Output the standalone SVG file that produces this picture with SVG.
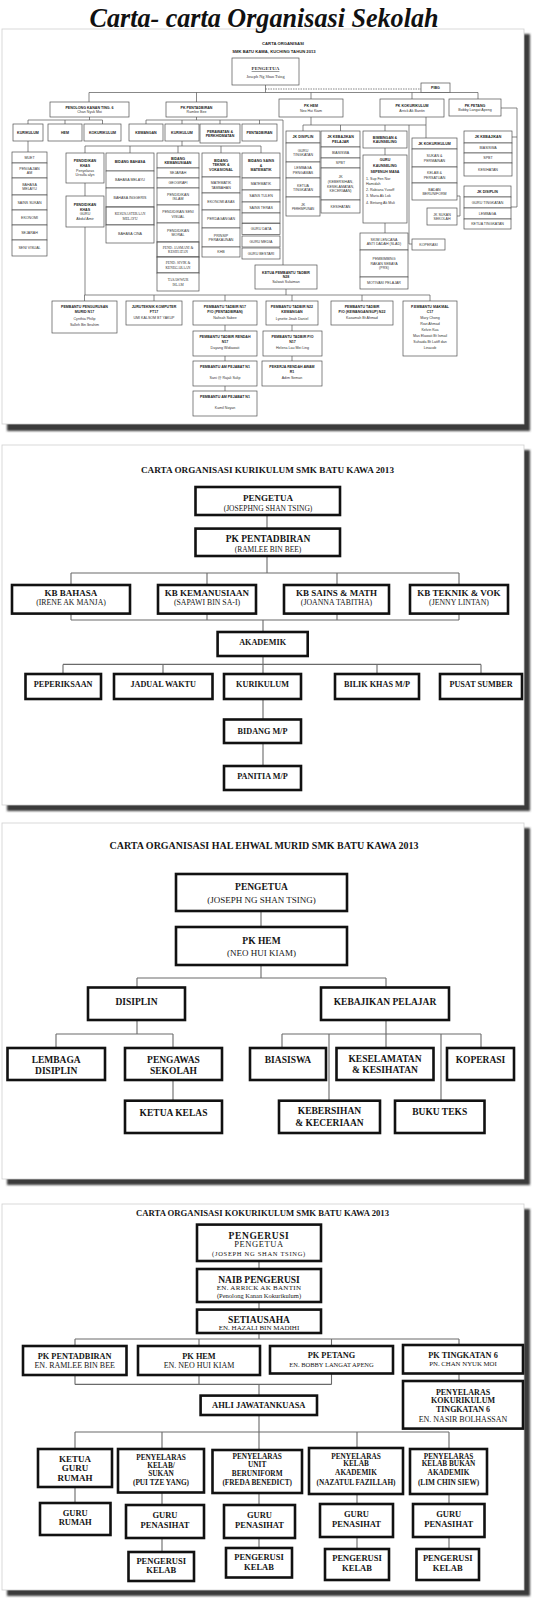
<svg xmlns="http://www.w3.org/2000/svg" width="533" height="1600" viewBox="0 0 533 1600">
<defs>
<filter id="blur" x="-5%" y="-5%" width="110%" height="110%"><feGaussianBlur stdDeviation="1.1"/></filter>
<style>
.sh{fill:#3a3a3a;filter:url(#blur)}
.pn{fill:#fff;stroke:#cfcfcf;stroke-width:0.8}
.n1 rect{fill:#fff;stroke:#505050;stroke-width:0.7}
.n1 text,.t1{font-family:"Liberation Sans",Arial,sans-serif;font-size:3.6px;fill:#333;text-anchor:middle}
.n1 text.h,.t1.h{font-weight:bold;fill:#222}
.n1 text.l{text-anchor:start}
.c1 path{fill:none;stroke:#555;stroke-width:0.7}
.n2 rect{fill:#fff;stroke:#111;stroke-width:2.6}
.n2 text,.ts{font-family:"Liberation Serif","Times New Roman",serif;fill:#151515;text-anchor:middle;font-size:8.2px}
.n2 text.b,.ts.b{font-weight:bold}
.c2 path{fill:none;stroke:#6a6a6a;stroke-width:1.1}
</style>
</defs>
<rect width="533" height="1600" fill="#fff"/>

<!-- panel frames -->
<rect class="sh" x="7" y="34" width="523" height="397"/>
<rect class="pn" x="2" y="29" width="522" height="395"/>
<rect class="sh" x="7" y="450" width="523" height="361"/>
<rect class="pn" x="2" y="445" width="522" height="360"/>
<rect class="sh" x="7" y="828" width="523" height="357"/>
<rect class="pn" x="2" y="823" width="522" height="356"/>
<rect class="sh" x="7" y="1209" width="523" height="387"/>
<rect class="pn" x="2" y="1204" width="522" height="386"/>

<text x="264" y="27" style="font-family:'Liberation Serif',serif;font-style:italic;font-weight:bold;font-size:27px;fill:#111;text-anchor:middle" textLength="349" lengthAdjust="spacingAndGlyphs">Carta- carta Organisasi Sekolah</text>

<!-- ============ PANEL 1 ============ -->
<text class="t1 h" x="283" y="45" style="font-size:4.2px">CARTA ORGANISASI</text>
<text class="t1 h" x="274" y="53" style="font-size:4.2px">SMK BATU KAWA, KUCHING TAHUN 2013</text>

<g id="p1-connectors" class="c1">
<path d="M265.5 85V92.5M89 92.5H478M89 92.5V102M196.5 92.5V102M311 92.5V99M412 92.5V99M478 92.5V99"/>
<path d="M265.5 89H421" style="stroke-dasharray:1.5 1"/>
<path d="M89.5 117V120M28 120H102.5M28 120V124M65 120V124M102.5 120V124M28 141V152"/>
<path d="M196.5 117V120M146 120H283M146 120V124M182 120V124M220 120V124M259.5 120V124M283 120V265"/>
<path d="M182 141V146M85 146H261M85 146V153M130 146V153M178 146V153M221 146V153M261 146V153M85 183V196M85 227V295"/>
<path d="M311 117V125M303 125H426M303 125V131M340.5 125V131M385 125V131M426 117V138M409 125V244H412"/>
<path d="M385 148V155M385 223V233M457 196H460V216H457"/>
<path d="M501 108H517V207H511M517 137H512"/>
<path d="M286 289V295M84.5 295H430M84.5 295V301M154 295V301M225 295V301M292 295V301M362 295V301M430 295V301"/>
<path d="M225 325V331M225 356V361M225 386V391M292 325V331M292 356V361"/>
</g>

<g id="p1-pengetua" class="n1"><rect x="232" y="58" width="67" height="27"/>
<text x="265.5" y="70" style="font-family:'Liberation Serif',serif;font-size:5px;font-weight:bold;text-decoration:underline">PENGETUA</text>
<text x="265.5" y="77.5" style="font-family:'Liberation Serif',serif;font-size:4.3px">Joseph Ng Shan Tsing</text></g>
<g id="p1-pibg" class="n1"><rect x="421" y="83" width="29" height="9.5"/><text class="h" x="435.5" y="89">PIBG</text></g>

<g id="p1-penolong" class="n1"><rect x="50" y="102" width="79" height="15"/><text class="h" x="89.5" y="108.5">PENOLONG KANAN TING. 6</text><text x="89.5" y="113.1">Chan Nyuk Moi</text></g>
<g id="p1-pkpentadbiran" class="n1"><rect x="166" y="102" width="61" height="15"/><text class="h" x="196.5" y="108.5">PK PENTADBIRAN</text><text x="196.5" y="113.1">Ramlee Bee</text></g>
<g id="p1-pkhem" class="n1"><rect x="279" y="99" width="64" height="18"/><text class="h" x="311" y="107">PK HEM</text><text x="311" y="111.6">Neo Hui Kiam</text></g>
<g id="p1-pkkoko" class="n1"><rect x="380" y="99" width="64" height="18"/><text class="h" x="412" y="107">PK KOKURIKULUM</text><text x="412" y="111.6">Arrick Ak Bantin</text></g>
<g id="p1-pkpetang" class="n1"><rect x="449" y="99" width="52" height="17"/><text class="h" x="475" y="106.5">PK PETANG</text><text x="475" y="111.1">Bobby Langat Apeng</text></g>

<g id="p1-kurikulum-a" class="n1"><rect x="13" y="124" width="30" height="17"/><text class="h" x="28" y="133.8">KURIKULUM</text></g>
<g id="p1-hem-a" class="n1"><rect x="48" y="124" width="34" height="17"/><text class="h" x="65" y="133.8">HEM</text></g>
<g id="p1-koko-a" class="n1"><rect x="84" y="124" width="37" height="17"/><text class="h" x="102.5" y="133.8">KOKURIKULUM</text></g>
<g id="p1-kewangan" class="n1"><rect x="129" y="124" width="34" height="17"/><text class="h" x="146" y="133.8">KEWANGAN</text></g>
<g id="p1-kurikulum-b" class="n1"><rect x="165" y="124" width="34" height="17"/><text class="h" x="182" y="133.8">KURIKULUM</text></g>
<g id="p1-perawatan" class="n1"><rect x="200" y="124" width="40" height="19"/><text class="h" x="220" y="132.5">PERAWATAN &amp;</text><text class="h" x="220" y="137.1">PERKHIDMATAN</text></g>
<g id="p1-pentadbiran" class="n1"><rect x="242" y="124" width="35" height="17"/><text class="h" x="259.5" y="133.8">PENTADBIRAN</text></g>

<g id="p1-stack-ting6" class="n1">
<rect x="12" y="152" width="35" height="11"/><text x="29.5" y="158.8">MUET</text>
<rect x="12" y="163" width="35" height="15"/><text x="29.5" y="169.5">PENGAJIAN</text><text x="29.5" y="174.1">AM</text>
<rect x="12" y="178" width="35" height="17"/><text x="29.5" y="185.5">BAHASA</text><text x="29.5" y="190.1">MELAYU</text>
<rect x="12" y="195" width="35" height="15"/><text x="29.5" y="203.8">SAINS SUKAN</text>
<rect x="12" y="210" width="35" height="15"/><text x="29.5" y="218.8">EKONOMI</text>
<rect x="12" y="225" width="35" height="15"/><text x="29.5" y="233.8">SEJARAH</text>
<rect x="12" y="240" width="35" height="16"/><text x="29.5" y="249.3">SENI VISUAL</text>
</g>

<g id="p1-pkhas1" class="n1"><rect x="66" y="153" width="38" height="30"/><text class="h" x="85" y="162.4">PENDIDIKAN</text><text class="h" x="85" y="167">KHAS</text><text x="85" y="171.6">Penyelaras</text><text x="85" y="176.2">Ursulla alyn</text></g>
<g id="p1-pkhas2" class="n1"><rect x="66" y="196" width="38" height="31"/><text class="h" x="85" y="205.9">PENDIDIKAN</text><text class="h" x="85" y="210.5">KHAS</text><text x="85" y="215.1">GURU</text><text x="85" y="219.7">Abdul Amir</text></g>

<g id="p1-bidang-bahasa" class="n1">
<rect x="106" y="153" width="48" height="18"/><text class="h" x="130" y="163.3">BIDANG BAHASA</text>
<rect x="106" y="171" width="48" height="17"/><text x="130" y="180.8">BAHASA MELAYU</text>
<rect x="106" y="188" width="48" height="19"/><text x="130" y="198.8">BAHASA INGGERIS</text>
<rect x="106" y="207" width="48" height="18" style="stroke-width:1"/><text x="130" y="215" style="font-family:'Liberation Serif',serif">KESUSASTERAAN</text><text x="130" y="219.6" style="font-family:'Liberation Serif',serif">MELAYU</text>
<rect x="106" y="225" width="48" height="18"/><text x="130" y="235.3">BAHASA CINA</text>
</g>

<g id="p1-bidang-kemanusiaan" class="n1">
<rect x="157" y="153" width="42" height="15"/><text class="h" x="178" y="159.5">BIDANG</text><text class="h" x="178" y="164.1">KEMANUSIAAN</text>
<rect x="157" y="168" width="42" height="10"/><text x="178" y="174.3">SEJARAH</text>
<rect x="157" y="178" width="42" height="10"/><text x="178" y="184.3">GEOGRAFI</text>
<rect x="157" y="188" width="42" height="17"/><text x="178" y="195.5">PENDIDIKAN</text><text x="178" y="200.1">ISLAM</text>
<rect x="157" y="205" width="42" height="18"/><text x="178" y="213">PENDIDIKAN SENI</text><text x="178" y="217.6">VISUAL</text>
<rect x="157" y="223" width="42" height="19"/><text x="178" y="231.5">PENDIDIKAN</text><text x="178" y="236.1">MORAL</text>
<rect x="157" y="242" width="42" height="15" style="stroke-width:1"/><text x="178" y="248.5" style="font-family:'Liberation Serif',serif">PEND. JASMANI &amp;</text><text x="178" y="253.1" style="font-family:'Liberation Serif',serif">KESIHATAN</text>
<rect x="157" y="257" width="42" height="16" style="stroke-width:1"/><text x="178" y="264" style="font-family:'Liberation Serif',serif">PEND. SIVIK &amp;</text><text x="178" y="268.6" style="font-family:'Liberation Serif',serif">KENEGARAAN</text>
<rect x="157" y="273" width="42" height="18"/><text x="178" y="281" style="font-family:'Liberation Serif',serif">TASAWWUR</text><text x="178" y="285.6" style="font-family:'Liberation Serif',serif">ISLAM</text>
</g>

<g id="p1-bidang-teknik" class="n1">
<rect x="202" y="153" width="38" height="24"/><text class="h" x="221" y="161.7">BIDANG</text><text class="h" x="221" y="166.3">TEKNIK &amp;</text><text class="h" x="221" y="170.9">VOKASIONAL</text>
<rect x="202" y="177" width="38" height="16"/><text x="221" y="184">MATEMATIK</text><text x="221" y="188.6">TAMBAHAN</text>
<rect x="202" y="193" width="38" height="17"/><text x="221" y="202.8">EKONOMI ASAS</text>
<rect x="202" y="210" width="38" height="18"/><text x="221" y="220.3">PERDAGANGAN</text>
<rect x="202" y="228" width="38" height="19"/><text x="221" y="236.5">PRINSIP</text><text x="221" y="241.1">PERAKAUNAN</text>
<rect x="202" y="247" width="38" height="10"/><text x="221" y="253.3">KHB</text>
</g>

<g id="p1-bidang-sains" class="n1">
<rect x="242" y="153" width="38" height="25"/><text class="h" x="261" y="162.2">BIDANG SAINS</text><text class="h" x="261" y="166.8">&amp;</text><text class="h" x="261" y="171.4">MATEMATIK</text>
<rect x="242" y="178" width="38" height="12"/><text x="261" y="185.3">MATEMATIK</text>
<rect x="242" y="190" width="38" height="12"/><text x="261" y="197.3">SAINS TULEN</text>
<rect x="242" y="202" width="38" height="11"/><text x="261" y="208.8">SAINS TERAS</text>
<rect x="242" y="213" width="38" height="10"/>
<rect x="242" y="223.5" width="38" height="11"/><text x="261" y="230.3">GURU DATA</text>
<rect x="242" y="236" width="38" height="11"/><text x="261" y="242.8">GURU MEDIA</text>
<rect x="242" y="248" width="38" height="11"/><text x="261" y="254.8">GURU BESTARI</text>
</g>

<g id="p1-jk-disiplin" class="n1">
<rect x="286" y="131" width="34" height="12"/><text class="h" x="303" y="138.3">JK DISIPLIN</text>
<rect x="286" y="143" width="34" height="19"/><text x="303" y="151.5">GURU</text><text x="303" y="156.1">TINGKATAN</text>
<rect x="286" y="162" width="34" height="16"/><text x="303" y="169">LEMBAGA</text><text x="303" y="173.6">PENGAWAS</text>
<rect x="286" y="178" width="34" height="19"/><text x="303" y="186.5">KETUA</text><text x="303" y="191.1">TINGKATAN</text>
<rect x="286" y="197" width="34" height="19"/><text x="303" y="205.5">JK</text><text x="303" y="210.1" style="font-size:3px">PERHIMPUNAN</text>
</g>

<g id="p1-jk-kebajikan" class="n1">
<rect x="321" y="131" width="39" height="16"/><text class="h" x="340.5" y="138">JK KEBAJIKAN</text><text class="h" x="340.5" y="142.6">PELAJAR</text>
<rect x="321" y="147" width="39" height="11"/><text x="340.5" y="153.8">BIASISWA</text>
<rect x="321" y="158" width="39" height="10"/><text x="340.5" y="164.3">SPBT</text>
<rect x="321" y="168" width="39" height="32"/><text x="340.5" y="178.4">JK</text><text x="340.5" y="183">(KEBERSIHAN,</text><text x="340.5" y="187.6">KESELAMATAN,</text><text x="340.5" y="192.2">KECERIAAN)</text>
<rect x="321" y="200" width="39" height="13"/><text x="340.5" y="207.8">KESIHATAN</text>
</g>

<g id="p1-bimbingan" class="n1"><rect x="363" y="131" width="44" height="17"/><text class="h" x="385" y="138.5">BIMBINGAN &amp;</text><text class="h" x="385" y="143.1">KAUNSELING</text></g>
<g id="p1-guru-kaunseling" class="n1"><rect x="363" y="155" width="44" height="68"/>
<text class="h" x="385" y="161">GURU</text><text class="h" x="385" y="166.7">KAUNSELING</text><text class="h" x="385" y="172.5">SEPENUH MASA</text>
<text class="l" x="366" y="179.5">1. Sup Fen Nor</text><text class="l" x="366" y="185">Hamidah</text><text class="l" x="366" y="191">2. Rabiana Yusoff</text><text class="l" x="366" y="197">3. Maria Ak Lok</text><text class="l" x="366" y="203.5">4. Bintang Ak Muli</text></g>
<g id="p1-skim" class="n1">
<rect x="360" y="233" width="48" height="17"/><text x="384" y="240.5">SKIM LENCANA</text><text x="384" y="245.1">ANTI DADAH (SLAD)</text>
<rect x="360" y="250" width="48" height="27"/><text x="384" y="260.2">PEMBIMBING</text><text x="384" y="264.8">RAKAN SEBAYA</text><text x="384" y="269.4">(PRS)</text>
<rect x="360" y="277" width="48" height="12"/><text x="384" y="284.3">MOTIVASI PELAJAR</text>
</g>

<g id="p1-jk-koko" class="n1">
<rect x="412" y="138" width="45" height="11"/><text class="h" x="434.5" y="144.8">JK KOKURIKULUM</text>
<rect x="412" y="149" width="45" height="18"/><text x="434.5" y="157">SUKAN &amp;</text><text x="434.5" y="161.6">PERMAINAN</text>
<rect x="412" y="167" width="45" height="16"/><text x="434.5" y="174">KELAB &amp;</text><text x="434.5" y="178.6">PERSATUAN</text>
<rect x="412" y="183" width="45" height="17"/><text x="434.5" y="190.5">BADAN</text><text x="434.5" y="195.1">BERUNIFORM</text>
</g>
<g id="p1-jk-sukan" class="n1"><rect x="427" y="208" width="30" height="17"/><text x="442" y="215.5">JK SUKAN</text><text x="442" y="220.1">SEKOLAH</text></g>
<g id="p1-koperasi" class="n1"><rect x="412" y="239" width="33" height="11"/><text x="428.5" y="245.8">KOPERASI</text></g>

<g id="p1-jk-kebajikan-petang" class="n1">
<rect x="464" y="131" width="48" height="12"/><text class="h" x="488" y="138.3">JK KEBAJIKAN</text>
<rect x="464" y="143" width="48" height="10"/><text x="488" y="149.3">BIASISWA</text>
<rect x="464" y="153" width="48" height="10"/><text x="488" y="159.3">SPBT</text>
<rect x="464" y="163" width="48" height="13"/><text x="488" y="170.8">KESIHATAN</text>
</g>
<g id="p1-jk-disiplin-petang" class="n1">
<rect x="464" y="186" width="47" height="11"/><text class="h" x="487.5" y="192.8">JK DISIPLIN</text>
<rect x="464" y="197" width="47" height="11"/><text x="487.5" y="203.8">GURU TINGKATAN</text>
<rect x="464" y="208" width="47" height="11"/><text x="487.5" y="214.8">LEMBAGA</text>
<rect x="464" y="219" width="47" height="10"/><text x="487.5" y="225.3">KETUA TINGKATAN</text>
</g>

<g id="p1-ketua-pt" class="n1"><rect x="255" y="265" width="62" height="24"/><text class="h" x="286" y="273.7">KETUA PEMBANTU TADBIR</text><text class="h" x="286" y="278.3">N28</text><text x="286" y="282.9">Salwati Sulaiman</text></g>

<g id="p1-ppm" class="n1"><rect x="52" y="301" width="65" height="32"/><text class="h" x="84.5" y="308">PEMBANTU PENGURUSAN</text><text class="h" x="84.5" y="313">MURID N17</text><text x="84.5" y="319.5">Cynthia Philip</text><text x="84.5" y="325.5">Salleh Bin Ibrahim</text></g>
<g id="p1-juruteknik" class="n1"><rect x="126" y="301" width="56" height="24"/><text class="h" x="154" y="308">JURUTEKNIK KOMPUTER</text><text class="h" x="154" y="313">FT17</text><text x="154" y="319">UMI KALSOM BT YAKUP</text></g>
<g id="p1-pt-n17" class="n1"><rect x="193" y="301" width="64" height="24"/><text class="h" x="225" y="308">PEMBANTU TADBIR N17</text><text class="h" x="225" y="313">P/O (PENTADBIRAN)</text><text x="225" y="319">Nafisah Sabee</text></g>
<g id="p1-pt-n22" class="n1"><rect x="266" y="301" width="52" height="24"/><text class="h" x="292" y="308">PEMBANTU TADBIR N22</text><text class="h" x="292" y="313">KEWANGAN</text><text x="292" y="319.5">Lynette Jinah Daniel</text></g>
<g id="p1-pt-sup" class="n1"><rect x="331" y="301" width="62" height="24"/><text class="h" x="362" y="308">PEMBANTU TADBIR</text><text class="h" x="362" y="313">P/O (KEWANGAN/SUP) N22</text><text x="362" y="318.5">Kasamah Bt Ahmad</text></g>
<g id="p1-makmal" class="n1"><rect x="403" y="301" width="54" height="55"/><text class="h" x="430" y="308">P.EMBANTU MAKMAL</text><text class="h" x="430" y="313">C17</text><text x="430" y="319">Mary Chong</text><text x="430" y="325">Rozi Ahmad</text><text x="430" y="331">Kelvin Kua</text><text x="430" y="337">Mas Elawati Bt Ismail</text><text x="430" y="343">Suhaida Bt Latiff dan</text><text x="430" y="349">Linacob</text></g>
<g id="p1-ptr" class="n1"><rect x="193" y="331" width="64" height="25"/><text class="h" x="225" y="338">PEMBANTU TADBIR RENDAH</text><text class="h" x="225" y="343">N17</text><text x="225" y="349">Dayang Widiawati</text></g>
<g id="p1-pap1" class="n1"><rect x="193" y="361" width="64" height="25"/><text class="h" x="225" y="368">PEMBANTU AM PEJABAT N1</text><text x="225" y="379">Sani @ Rajali Sulip</text></g>
<g id="p1-pap2" class="n1"><rect x="193" y="391" width="64" height="25"/><text class="h" x="225" y="398">PEMBANTU AM PEJABAT N1</text><text x="225" y="409">Kamil Noyan</text></g>
<g id="p1-pt-po" class="n1"><rect x="263" y="331" width="59" height="25"/><text class="h" x="292.5" y="338">PEMBANTU TADBIR P/O</text><text class="h" x="292.5" y="343">N17</text><text x="292.5" y="349">Helena Lau Mei Ling</text></g>
<g id="p1-pra" class="n1"><rect x="262" y="361" width="60" height="25"/><text class="h" x="292" y="368">PEKERJA RENDAH AWAM</text><text class="h" x="292" y="373">R1</text><text x="292" y="379">Adim Seman</text></g>

<!-- ============ PANEL 2 ============ -->
<text class="ts b" x="267.5" y="473" style="font-size:9px" textLength="253" lengthAdjust="spacingAndGlyphs">CARTA ORGANISASI KURIKULUM SMK BATU KAWA 2013</text>
<g id="p2-connectors" class="c2">
<path d="M267 515V528.6M267 556V573M71 573H459M71 573V585M207 573V585M337 573V585M459 573V585"/>
<path d="M71 613.6V620M207 613.6V620M337 613.6V620M459 613.6V620M71 620H459M263 620V632"/>
<path d="M263 656V664.4M63 664.4H481M63 664.4V674M163 664.4V674M263 664.4V674M377 664.4V674M481 664.4V674"/>
<path d="M263 699V719.5M263 743V766"/>
</g>
<g id="p2-pengetua" class="n2"><rect x="195.5" y="487" width="144.5" height="28"/><text class="b" x="268" y="500.5" style="font-size:9px">PENGETUA</text><text x="268" y="510.5" style="font-size:7.5px">(JOSEPHNG SHAN TSING)</text></g>
<g id="p2-pkpentadbiran" class="n2"><rect x="195.5" y="528.6" width="144.5" height="27.4"/><text class="b" x="268" y="541.5" style="font-size:9.5px">PK PENTADBIRAN</text><text x="268" y="551.5" style="font-size:7.5px">(RAMLEE BIN BEE)</text></g>
<g id="p2-kb-bahasa" class="n2"><rect x="12" y="585" width="118" height="28.6"/><text class="b" x="71" y="595.5" style="font-size:9px">KB BAHASA</text><text x="71" y="604.5" style="font-size:7.8px">(IRENE AK MANJA)</text></g>
<g id="p2-kb-kemanusiaan" class="n2"><rect x="158" y="585" width="98" height="28.6"/><text class="b" x="207" y="595.5" style="font-size:9px">KB KEMANUSIAAN</text><text x="207" y="604.5" style="font-size:7.8px">(SAPAWI BIN SA-I)</text></g>
<g id="p2-kb-sains" class="n2"><rect x="284" y="585" width="105" height="28.6"/><text class="b" x="336.5" y="595.5" style="font-size:9px">KB SAINS &amp; MATH</text><text x="336.5" y="604.5" style="font-size:7.8px">(JOANNA TABITHA)</text></g>
<g id="p2-kb-teknik" class="n2"><rect x="410" y="585" width="98" height="28.6"/><text class="b" x="459" y="595.5" style="font-size:9px">KB TEKNIK &amp; VOK</text><text x="459" y="604.5" style="font-size:7.8px">(JENNY LINTAN)</text></g>
<g id="p2-akademik" class="n2"><rect x="217.6" y="632" width="90.1" height="24"/><text class="b" x="262.6" y="645">AKADEMIK</text></g>
<g id="p2-peperiksaan" class="n2"><rect x="25.5" y="674" width="75.5" height="25"/><text class="b" x="63.2" y="687">PEPERIKSAAN</text></g>
<g id="p2-jadual" class="n2"><rect x="114" y="674" width="98.5" height="25"/><text class="b" x="163.2" y="687">JADUAL WAKTU</text></g>
<g id="p2-kurikulum" class="n2"><rect x="224" y="674" width="77" height="25"/><text class="b" x="262.5" y="687">KURIKULUM</text></g>
<g id="p2-bilik" class="n2"><rect x="335" y="674" width="84" height="25"/><text class="b" x="377" y="687">BILIK KHAS M/P</text></g>
<g id="p2-pusat" class="n2"><rect x="440" y="674" width="82" height="25"/><text class="b" x="481" y="687">PUSAT SUMBER</text></g>
<g id="p2-bidang" class="n2"><rect x="224" y="719.5" width="77" height="23.5"/><text class="b" x="262.5" y="733.5">BIDANG M/P</text></g>
<g id="p2-panitia" class="n2"><rect x="224" y="766" width="77" height="24"/><text class="b" x="262.5" y="778.5">PANITIA M/P</text></g>

<!-- ============ PANEL 3 ============ -->
<text class="ts b" x="264" y="849" style="font-size:9.5px" textLength="309" lengthAdjust="spacingAndGlyphs">CARTA ORGANISASI HAL EHWAL MURID SMK BATU KAWA 2013</text>
<g id="p3-connectors" class="c2">
<path d="M261 911V927M261 965V978M137 978H386M137 978V987.5M386 978V987.5"/>
<path d="M137 1020V1034M56 1034H173M56 1034V1048M173 1034V1048M173 1080V1100.7"/>
<path d="M386 1020V1034M282 1034H481M282 1034V1048M329 1034V1100.7M386 1034V1048M441 1034V1100.7M481 1034V1048"/>
</g>
<g id="p3-pengetua" class="n2"><rect x="176" y="874" width="171" height="37"/><text class="b" x="261.5" y="889.5" style="font-size:9.5px">PENGETUA</text><text x="261.5" y="902.5" style="font-size:9px">(JOSEPH NG SHAN TSING)</text></g>
<g id="p3-pkhem" class="n2"><rect x="176" y="927" width="171" height="38"/><text class="b" x="261.5" y="944" style="font-size:9.5px">PK HEM</text><text x="261.5" y="956" style="font-size:9px">(NEO HUI KIAM)</text></g>
<g id="p3-disiplin" class="n2"><rect x="88" y="987.5" width="97" height="32.5"/><text class="b" x="136.5" y="1004.5" style="font-size:9.5px">DISIPLIN</text></g>
<g id="p3-kebajikan" class="n2"><rect x="321" y="987.5" width="128" height="32.5"/><text class="b" x="385" y="1004.5" style="font-size:9.5px">KEBAJIKAN PELAJAR</text></g>
<g id="p3-lembaga" class="n2"><rect x="7.5" y="1048" width="97.5" height="32"/><text class="b" x="56.2" y="1063" style="font-size:9.5px">LEMBAGA</text><text class="b" x="56.2" y="1074" style="font-size:9.5px">DISIPLIN</text></g>
<g id="p3-pengawas" class="n2"><rect x="125" y="1048" width="97" height="32"/><text class="b" x="173.5" y="1063" style="font-size:9.5px">PENGAWAS</text><text class="b" x="173.5" y="1074" style="font-size:9.5px">SEKOLAH</text></g>
<g id="p3-ketua-kelas" class="n2"><rect x="125" y="1100.7" width="97" height="32.3"/><text class="b" x="173.5" y="1116" style="font-size:9.5px">KETUA KELAS</text></g>
<g id="p3-biasiswa" class="n2"><rect x="250" y="1048" width="76" height="32"/><text class="b" x="288" y="1063" style="font-size:9.5px">BIASISWA</text></g>
<g id="p3-keselamatan" class="n2"><rect x="336.5" y="1048" width="97" height="32"/><text class="b" x="385" y="1061.5" style="font-size:9.5px">KESELAMATAN</text><text class="b" x="385" y="1072.5" style="font-size:9.5px">&amp; KESIHATAN</text></g>
<g id="p3-koperasi" class="n2"><rect x="447" y="1048" width="67" height="32"/><text class="b" x="480.5" y="1063" style="font-size:9.5px">KOPERASI</text></g>
<g id="p3-kebersihan" class="n2"><rect x="279" y="1100.7" width="101" height="32.3"/><text class="b" x="329.5" y="1114" style="font-size:9.5px">KEBERSIHAN</text><text class="b" x="329.5" y="1125.5" style="font-size:9.5px">&amp; KECERIAAN</text></g>
<g id="p3-buku" class="n2"><rect x="395" y="1100.7" width="89.5" height="32.3"/><text class="b" x="439.7" y="1115" style="font-size:9.5px">BUKU TEKS</text></g>

<!-- ============ PANEL 4 ============ -->
<text class="ts b" x="262.5" y="1215.5" style="font-size:9px" textLength="253" lengthAdjust="spacingAndGlyphs">CARTA ORGANISASI KOKURIKULUM SMK BATU KAWA 2013</text>
<g id="p4-connectors" class="c2">
<path d="M259 1261V1269M259 1302V1309.6M259 1333V1339M75 1339H459M75 1339V1346M199 1339V1346M331.5 1339V1346M459 1339V1345M459 1373.5V1381"/>
<path d="M75 1375V1384.4M199 1375V1384.4M331.5 1373.5V1384.4M75 1384.4H331.5M259 1384.4V1395.6"/>
<path d="M259 1415V1432M75 1432H449M75 1432V1449M162 1432V1449M259 1432V1450M357 1432V1448M449 1432V1449"/>
<path d="M75 1487V1503M162 1492.5V1505M162 1538V1552M259 1493V1505M259 1538V1548M357 1494V1504M357 1537V1549M449 1494V1504M449 1537V1549"/>
</g>
<g id="p4-pengerusi" class="n2"><rect x="197" y="1224.6" width="124" height="36.4"/><text class="b" x="259" y="1238.5" style="font-size:9.5px;letter-spacing:0.6px">PENGERUSI</text><text x="259" y="1247" style="font-size:8.5px;letter-spacing:0.6px">PENGETUA</text><text x="259" y="1255.5" style="font-size:6.5px;letter-spacing:0.7px">(JOSEPH NG SHAN TSING)</text></g>
<g id="p4-naib" class="n2"><rect x="197" y="1269" width="124" height="33"/><text class="b" x="259" y="1282.5" style="font-size:9.5px">NAIB PENGERUSI</text><text x="259" y="1290" style="font-size:7px;letter-spacing:0.3px">EN. ARRICK AK BANTIN</text><text x="259" y="1297.5" style="font-size:6.5px">(Penolong Kanan Kokurikulum)</text></g>
<g id="p4-setiausaha" class="n2"><rect x="197" y="1309.6" width="124" height="23.4"/><text class="b" x="259" y="1322.5" style="font-size:9.5px">SETIAUSAHA</text><text x="259" y="1330.3" style="font-size:7px">EN. HAZALI BIN MADIHI</text></g>
<g id="p4-pkpentadbiran" class="n2"><rect x="23" y="1346" width="103.5" height="29"/><text class="b" x="74.7" y="1358.5" style="font-size:8.3px">PK PENTADBIRAN</text><text x="74.7" y="1368" style="font-size:8px">EN. RAMLEE BIN BEE</text></g>
<g id="p4-pkhem" class="n2"><rect x="138" y="1346" width="122" height="29"/><text class="b" x="199" y="1358.5" style="font-size:8.3px">PK HEM</text><text x="199" y="1368" style="font-size:8px">EN. NEO HUI KIAM</text></g>
<g id="p4-pkpetang" class="n2"><rect x="270" y="1346" width="123" height="27.5"/><text class="b" x="331.5" y="1358" style="font-size:8.3px">PK PETANG</text><text x="331.5" y="1366.5" style="font-size:6.5px">EN. BOBBY LANGAT APENG</text></g>
<g id="p4-pkting6" class="n2"><rect x="403" y="1345" width="120" height="28.5"/><text class="b" x="463" y="1357.5" style="font-size:8.3px">PK TINGKATAN 6</text><text x="463" y="1366" style="font-size:6.8px">PN. CHAN NYUK MOI</text></g>
<g id="p4-penyelaras-t6" class="n2"><rect x="403" y="1381" width="120" height="47.6"/><text class="b" x="463" y="1394.5" style="font-size:8px">PENYELARAS</text><text class="b" x="463" y="1402.8" style="font-size:8px">KOKURIKULUM</text><text class="b" x="463" y="1411.8" style="font-size:8px">TINGKATAN 6</text><text x="463" y="1421.8" style="font-size:8px">EN. NASIR BOLHASSAN</text></g>
<g id="p4-ahli" class="n2"><rect x="200.6" y="1395.6" width="116.4" height="19.4"/><text class="b" x="258.8" y="1408.3" style="font-size:8.5px">AHLI JAWATANKUASA</text></g>
<g id="p4-ketua-guru-rumah" class="n2"><rect x="38" y="1449" width="74" height="38"/><text class="b" x="75" y="1462" style="font-size:9px">KETUA</text><text class="b" x="75" y="1471" style="font-size:9px">GURU</text><text class="b" x="75" y="1481" style="font-size:9px">RUMAH</text></g>
<g id="p4-kelab-sukan" class="n2"><rect x="118" y="1449" width="86" height="43.5"/><text class="b" x="161" y="1460" style="font-size:7.3px">PENYELARAS</text><text class="b" x="161" y="1467.7" style="font-size:7.3px">KELAB/</text><text class="b" x="161" y="1475.5" style="font-size:7.3px">SUKAN</text><text class="b" x="161" y="1484.7" style="font-size:7.3px">(PUI TZE YANG)</text></g>
<g id="p4-unit" class="n2"><rect x="212.5" y="1450" width="89.5" height="43"/><text class="b" x="257.2" y="1459" style="font-size:7.3px">PENYELARAS</text><text class="b" x="257.2" y="1467" style="font-size:7.3px">UNIT</text><text class="b" x="257.2" y="1475.5" style="font-size:7.3px">BERUNIFORM</text><text class="b" x="257.2" y="1485" style="font-size:7.3px">(FREDA BENEDICT)</text></g>
<g id="p4-akademik" class="n2"><rect x="309" y="1448" width="94" height="46"/><text class="b" x="356" y="1458.5" style="font-size:7.3px">PENYELARAS</text><text class="b" x="356" y="1466" style="font-size:7.3px">KELAB</text><text class="b" x="356" y="1474.5" style="font-size:7.3px">AKADEMIK</text><text class="b" x="356" y="1484.7" style="font-size:7.3px">(NAZATUL FAZILLAH)</text></g>
<g id="p4-bukan-akademik" class="n2"><rect x="410" y="1449" width="77" height="45"/><text class="b" x="448.5" y="1458.5" style="font-size:7.3px">PENYELARAS</text><text class="b" x="448.5" y="1466" style="font-size:7.3px">KELAB BUKAN</text><text class="b" x="448.5" y="1474.5" style="font-size:7.3px">AKADEMIK</text><text class="b" x="448.5" y="1484.7" style="font-size:7.3px">(LIM CHIN SIEW)</text></g>
<g id="p4-guru-rumah" class="n2"><rect x="40" y="1503" width="70.5" height="32"/><text class="b" x="75.2" y="1515.5" style="font-size:8.5px">GURU</text><text class="b" x="75.2" y="1525" style="font-size:8.5px">RUMAH</text></g>
<g id="p4-gp1" class="n2"><rect x="126" y="1505" width="78" height="33"/><text class="b" x="165" y="1517.5" style="font-size:8.5px">GURU</text><text class="b" x="165" y="1527.5" style="font-size:8.5px">PENASIHAT</text></g>
<g id="p4-gp2" class="n2"><rect x="224" y="1505" width="71" height="33"/><text class="b" x="259.5" y="1517.5" style="font-size:8.5px">GURU</text><text class="b" x="259.5" y="1527.5" style="font-size:8.5px">PENASIHAT</text></g>
<g id="p4-gp3" class="n2"><rect x="320" y="1504" width="73" height="33"/><text class="b" x="356.5" y="1516.5" style="font-size:8.5px">GURU</text><text class="b" x="356.5" y="1526.5" style="font-size:8.5px">PENASIHAT</text></g>
<g id="p4-gp4" class="n2"><rect x="413" y="1504" width="71.5" height="33"/><text class="b" x="448.7" y="1516.5" style="font-size:8.5px">GURU</text><text class="b" x="448.7" y="1526.5" style="font-size:8.5px">PENASIHAT</text></g>
<g id="p4-pk1" class="n2"><rect x="128.5" y="1552" width="65.5" height="29"/><text class="b" x="161.2" y="1563.5" style="font-size:8.5px">PENGERUSI</text><text class="b" x="161.2" y="1573" style="font-size:8.5px">KELAB</text></g>
<g id="p4-pk2" class="n2"><rect x="226" y="1548" width="66" height="29.5"/><text class="b" x="259" y="1560" style="font-size:8.5px">PENGERUSI</text><text class="b" x="259" y="1569.5" style="font-size:8.5px">KELAB</text></g>
<g id="p4-pk3" class="n2"><rect x="325" y="1549" width="64" height="31"/><text class="b" x="357" y="1561" style="font-size:8.5px">PENGERUSI</text><text class="b" x="357" y="1571" style="font-size:8.5px">KELAB</text></g>
<g id="p4-pk4" class="n2"><rect x="416.5" y="1549" width="62.5" height="31"/><text class="b" x="447.7" y="1561" style="font-size:8.5px">PENGERUSI</text><text class="b" x="447.7" y="1571" style="font-size:8.5px">KELAB</text></g>
</svg>
